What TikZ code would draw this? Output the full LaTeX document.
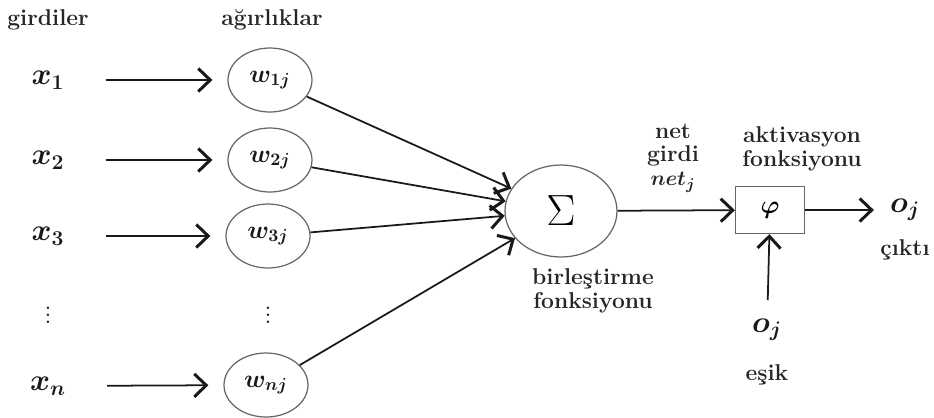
\documentclass[tikz,border=0pt]{standalone}
\usepackage{amsmath}
\usepackage{amssymb}
\usepackage{xcolor}
\usetikzlibrary{arrows.meta}
\usetikzlibrary{shapes.geometric}

\tikzset{
  lbl/.style={font=\fontsize{13}{13.5}\selectfont\bfseries, text=black!85, align=center},
  sym/.style={font=\LARGE\boldmath, text=black!90},
  wnode/.style={draw=black!60, line width=0.7pt, ellipse, minimum width=1.68cm, minimum height=1.28cm, inner sep=0pt, font=\Large\boldmath, text=black!90},
  link/.style={->, line width=1pt, black!90}
}

\begin{document}
\begin{tikzpicture}[x=0.02cm,y=-0.02cm, >={Straight Barb[length=2.4mm,width=4.6mm,line width=1.7pt]}]
\useasboundingbox (0,0) rectangle (934,417);

% column headings
\node[lbl] (gird) at (48,20) {girdiler};
\node[lbl] (agir) at (272,20) {ağırlıklar};

% inputs
\node[sym] (x1) at (48,80) {$x_1$};
\node[sym] (x2) at (48,160) {$x_2$};
\node[sym] (x3) at (48,236) {$x_3$};
\node[sym, font=\Large\boldmath] (xd) at (48,310) {$\vdots$};
\node[sym] (xn) at (48,386) {$x_n$};

% weights
\node[wnode] (w1) at (270,80) {$w_{1j}$};
\node[wnode] (w2) at (270,160) {$w_{2j}$};
\node[wnode] (w3) at (268,236) {$w_{3j}$};
\node[sym, font=\Large\boldmath] (wd) at (268,310) {$\vdots$};
\node[wnode] (wn) at (266,385) {$w_{nj}$};

% summation and activation
\node[draw=black!60, line width=0.7pt, ellipse, minimum width=2.24cm, minimum height=1.84cm, inner sep=0pt, font=\fontsize{29}{30}\selectfont] (sig) at (561,211) {$\Sigma$};
\node[draw=black!60, line width=0.7pt, minimum width=1.38cm, minimum height=0.94cm, font=\Large\boldmath] (phi) at (770,210) {$\varphi$};
\node[sym] (oj) at (905,210) {$o_j$};
\node[sym] (th) at (767,330) {$o_j$};

% labels
\node[lbl] (net) at (673,158) {net\\girdi\\{\boldmath$net_j$}};
\node[lbl] (akt) at (802,149) {aktivasyon\\fonksiyonu};
\node[lbl] (birl) at (593,291) {birleştirme\\fonksiyonu};
\node[lbl] (cikti) at (905,250) {çıktı};
\node[lbl] (esik) at (767,375) {eşik};

% connections
\draw[link, shorten <=0.7cm, shorten >=0.3cm] (x1) -- (w1);
\draw[link, shorten <=0.7cm, shorten >=0.3cm] (x2) -- (w2);
\draw[link, shorten <=0.7cm, shorten >=0.3cm] (x3) -- (w3);
\draw[link, shorten <=0.7cm, shorten >=0.3cm] (xn) -- (wn);

\draw[link] (w1) -- (sig);
\draw[link] (w2) -- (sig);
\draw[link] (w3) -- (sig);
\draw[link] (wn) -- (sig);

\draw[link] (sig) -- (phi);
\draw[link, shorten >=0.2cm] (phi) -- (oj);
\draw[link, shorten <=0.25cm] (th) -- (phi);
\end{tikzpicture}
\end{document}
